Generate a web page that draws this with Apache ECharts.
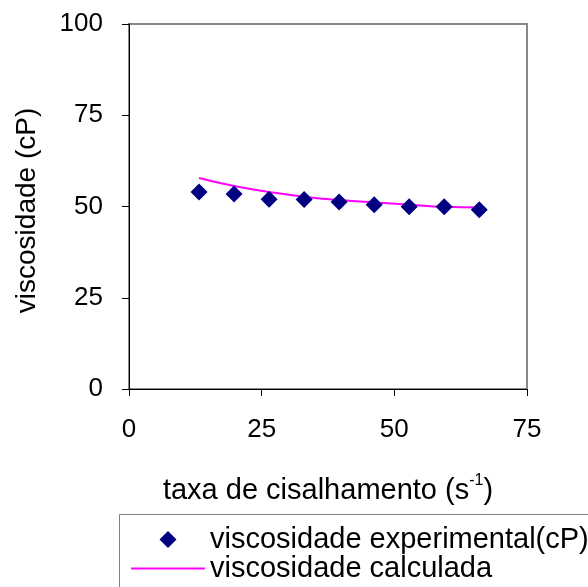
<!DOCTYPE html>
<html>
<head>
<meta charset="utf-8">
<script src="https://cdn.jsdelivr.net/npm/echarts@6/dist/echarts.min.js"></script>
<style>
html,body{margin:0;padding:0;background:#fff;}
#chart{width:588px;height:587px;}
</style>
</head>
<body>
<div id="chart"></div>
<script>
var shearRate = [13.2, 19.8, 26.4, 33.0, 39.6, 46.2, 52.8, 59.4, 66.0];
var viscExperimental = [54.0, 53.4, 52.0, 51.9, 51.2, 50.5, 49.9, 49.9, 49.1];
var viscCalculated = [57.8, 55.6, 54.0, 52.7, 51.8, 51.1, 50.5, 49.9, 49.7];
var xTicks = [0, 25, 50, 75];
var yTicks = [0, 25, 50, 75, 100];
var seriesNames = ['viscosidade experimental(cP)', 'viscosidade calculada'];

var FONT = 'Liberation Sans, Arial, sans-serif';
var chart = echarts.init(document.getElementById('chart'), null, {renderer: 'canvas'});

function pairs(xs, ys) { return xs.map(function (x, i) { return [x, ys[i]]; }); }

chart.setOption({
  animation: false,
  backgroundColor: '#ffffff',
  grid: {
    left: 129, right: 61, top: 24, bottom: 198,
    show: true, borderColor: '#888888', borderWidth: 2, backgroundColor: 'transparent'
  },
  graphic: [{
    type: 'rect', left: 119, top: 514, z: -1, silent: true,
    shape: {x: 0.5, y: 0.5, width: 520, height: 120},
    style: {fill: '#ffffff', stroke: '#808080', lineWidth: 1}
  }],
  xAxis: {
    type: 'value', min: xTicks[0], max: xTicks[xTicks.length - 1], interval: 25,
    splitLine: {show: false},
    axisLine: {show: true, onZero: false, lineStyle: {color: '#000', width: 1}},
    axisTick: {show: true, length: 7, inside: false, lineStyle: {color: '#000'}},
    axisLabel: {margin: 28, fontSize: 26, color: '#000', fontFamily: FONT},
    name: '{m|taxa de cisalhamento (s}{s|-1}{m|)}',
    nameLocation: 'middle', nameGap: 84,
    nameTextStyle: {
      fontFamily: FONT, color: '#000',
      rich: {
        m: {fontSize: 29, fontFamily: FONT, color: '#000', lineHeight: 32, verticalAlign: 'bottom'},
        s: {fontSize: 16, fontFamily: FONT, color: '#000', lineHeight: 32, verticalAlign: 'top'}
      }
    }
  },
  yAxis: {
    type: 'value', min: yTicks[0], max: yTicks[yTicks.length - 1], interval: 25,
    splitLine: {show: false},
    axisLine: {show: true, onZero: false, lineStyle: {color: '#000', width: 1}},
    axisTick: {show: true, length: 7, inside: false, lineStyle: {color: '#000'}},
    axisLabel: {margin: 26, fontSize: 26, color: '#000', fontFamily: FONT},
    name: 'viscosidade (cP)',
    nameLocation: 'middle', nameGap: 88,
    nameTextStyle: {fontSize: 28, color: '#000', fontFamily: FONT, padding: [0, 8, 0, 0]}
  },
  legend: {
    show: true, orient: 'vertical', left: 119, top: 514,
    padding: [11, 0, 0, 12],
    itemGap: 0, itemWidth: 74, itemHeight: 17,
    symbolKeepAspect: true,
    textStyle: {fontSize: 29, color: '#000', fontFamily: FONT, lineHeight: 24},
    data: [
      {name: seriesNames[0], icon: 'path://M0,-1 L1,0 L0,1 L-1,0 Z', itemStyle: {color: '#000080', opacity: 1}},
      {name: seriesNames[1], icon: 'path://M0,0 L74,0 L74,2 L0,2 Z', itemStyle: {color: '#ff00ff', opacity: 1}}
    ]
  },
  series: [
    {
      name: seriesNames[1], type: 'line', smooth: true, symbol: 'none',
      data: pairs(shearRate, viscCalculated),
      lineStyle: {color: '#ff00ff', width: 2}, itemStyle: {color: '#ff00ff'}, z: 2
    },
    {
      name: seriesNames[0], type: 'scatter', symbol: 'diamond', symbolSize: 17,
      data: pairs(shearRate, viscExperimental),
      itemStyle: {color: '#000080', opacity: 1}, z: 3
    }
  ]
});
</script>
</body>
</html>
